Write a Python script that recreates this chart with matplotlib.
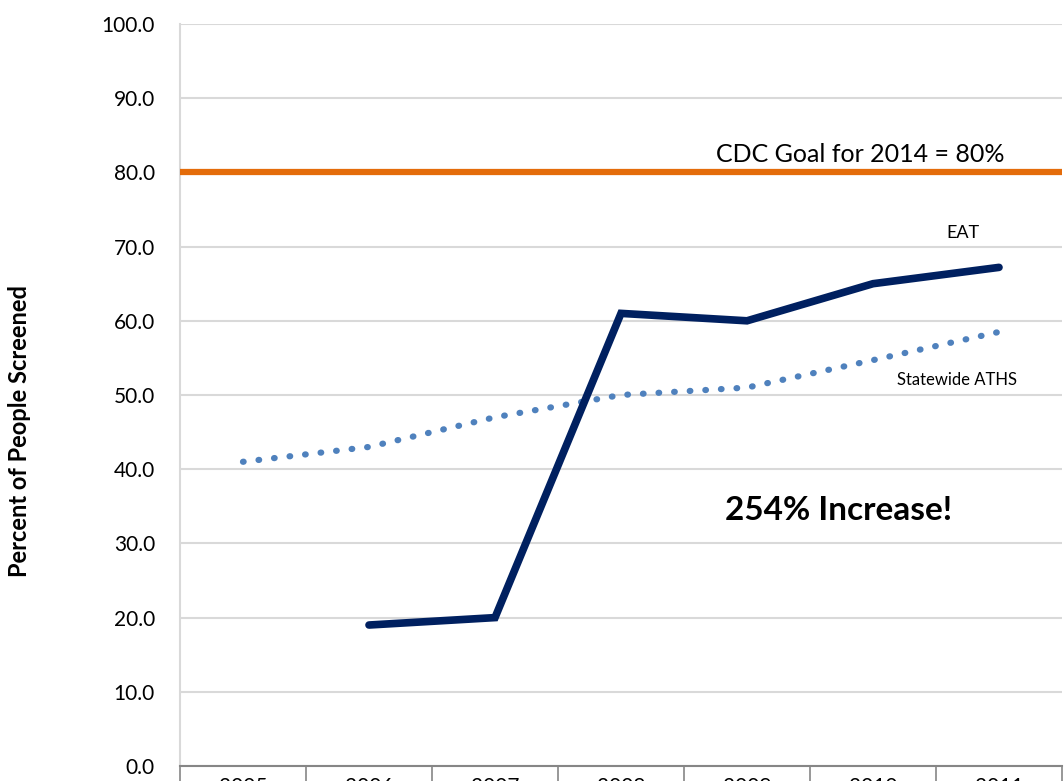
import matplotlib
matplotlib.use("Agg")
import matplotlib.pyplot as plt
import numpy as np

# data
years = ["2005", "2006", "2007", "2008", "2009", "2010", "2011"]
eat = [np.nan, 19.0, 20.0, 61.0, 60.0, 65.0, 67.2]
statewide = [41.0, 43.0, 47.0, 50.0, 51.0, 54.7, 58.5]
cdc_goal = 80.0
yticks = [0, 10, 20, 30, 40, 50, 60, 70, 80, 90, 100]

plt.rcParams['font.family'] = ['Lato', 'DejaVu Sans']

fig = plt.figure(figsize=(10.64, 7.81), dpi=100)
ax = fig.add_axes([180 / 1064, 15 / 781, 882 / 1064, 742 / 781])

x = np.arange(len(years))

ax.axhline(cdc_goal, color="#E46C0A", lw=4.5, zorder=3)
ax.plot(x, statewide, color="#4F81BD", lw=4.5, linestyle=(0, (0.1, 2.4)),
        dash_capstyle="round", zorder=3)
ax.plot(x, eat, color="#002060", lw=5.5, solid_capstyle="round",
        solid_joinstyle="miter", zorder=4)

ax.set_xlim(-0.5, len(years) - 0.5)
ax.set_ylim(0, 100)
ax.set_yticks(yticks)
ax.set_yticklabels([f"{v:.1f}" for v in yticks], fontsize=15)
ax.tick_params(axis="y", length=0, pad=18)

ax.set_xticks(x)
ax.set_xticklabels(years, fontsize=15)
ax.set_xticks(np.arange(-0.5, len(years)), minor=True)
ax.tick_params(axis="x", which="major", length=0, pad=8)
ax.tick_params(axis="x", which="minor", length=20, width=1.2, color="#868686")

ax.grid(axis="y", color="#D9D9D9", lw=1.5)
ax.set_axisbelow(True)
for s in ["top", "right"]:
    ax.spines[s].set_visible(False)
ax.spines["left"].set_color("#D9D9D9")
ax.spines["left"].set_linewidth(1.5)
ax.spines["bottom"].set_color("#868686")
ax.spines["bottom"].set_linewidth(1.5)

fig.text(20 / 1064, 1 - 431 / 781, "Percent of People Screened", fontsize=17,
         fontweight="bold", rotation=90, ha="center", va="center")

ax.text(4.90, 80.9, "CDC Goal for 2014 = 80%", fontsize=18, ha="center", va="bottom")
ax.text(5.71, 70.7, "EAT", fontsize=13, ha="center", va="bottom")
ax.text(5.67, 51.0, "Statewide ATHS", fontsize=12, ha="center", va="bottom")
ax.text(4.73, 34.5, "254% Increase!", fontsize=24, fontweight="bold", ha="center", va="center")

fig.savefig("out.png", dpi=100)
